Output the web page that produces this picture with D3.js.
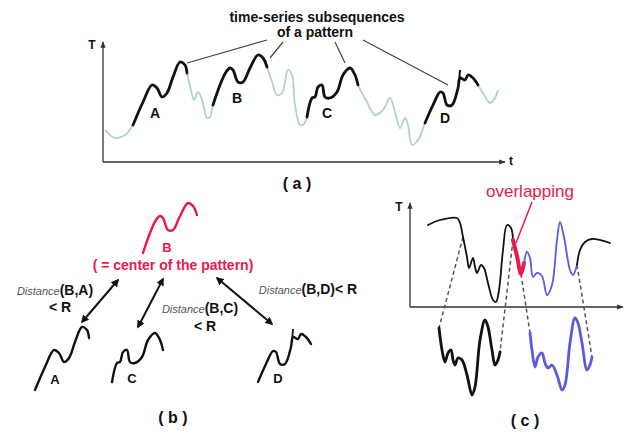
<!DOCTYPE html>
<html>
<head>
<meta charset="utf-8">
<script src="https://cdn.jsdelivr.net/npm/d3@7"></script>
<style>
  body { margin: 0; background: #fff; }
  svg { display: block; font-family: "Liberation Sans", Arial, sans-serif; }
</style>
</head>
<body>
<div id="chart-area"></div>
<script>
// DATA
// =====

// panel (a): the whole series, [t, T]
var seriesA = [
    [2, 32], [12, 24], [22, 27], [30, 37],
    [40, 60], [49, 77], [54, 74], [59, 65], [64, 69], [70, 85], [77, 100], [82, 97], [84, 89],
    [88, 72], [91, 62], [95, 70], [99, 62], [104, 44], [107, 45], [110, 57],
    [117, 77], [123, 90], [127, 94], [130, 92], [135, 80], [140, 80], [147, 94], [155, 107], [160, 104], [164, 95],
    [169, 80], [174, 67], [179, 69], [185, 92], [189, 87], [192, 57], [197, 37], [201, 38], [204, 45],
    [209, 64], [212, 65], [215, 75], [219, 77], [222, 65], [227, 64], [234, 70], [240, 87], [247, 94], [252, 87], [255, 77],
    [264, 60], [272, 47], [280, 52], [287, 64], [292, 50], [297, 34], [302, 44], [305, 37], [309, 17], [315, 22], [322, 39],
    [330, 57], [337, 70], [340, 69], [344, 57], [349, 57], [355, 74], [357, 84], [362, 82], [365, 87], [370, 84], [375, 77],
    [380, 69], [387, 59], [392, 64], [395, 72]
];
var subNames = ['A', 'B', 'C', 'D'];
var subRanges = [[30, 84], [110, 164], [204, 255], [322, 375]];
var dTick = [[357, 92], [356, 79]];

// panel (c): top series and the two copied subsequences below the axis
var seriesC = [
    [18, 82], [30, 87], [47, 89], [50, 84], [53, 70], [57, 50], [59, 39], [63, 49], [65, 40], [67, 34],
    [71, 42], [74, 39], [78, 24], [83, 7], [86, 5], [89, 17], [93, 57], [97, 82], [101, 79], [103, 67],
    [107, 51], [111, 33], [114, 44],
    [117, 55], [120, 49], [123, 30], [127, 34], [132, 31], [137, 12], [142, 22], [147, 67], [150, 85],
    [154, 70], [160, 37], [163, 32], [167, 42],
    [170, 57], [175, 65], [182, 68], [200, 64]
];
var segRanges = [[18, 103], [103, 114], [114, 167], [167, 200]];
var segKinds = ['black', 'red', 'blue', 'black'];
var copyBlack = [
    [29, -21], [32, -43], [35, -55], [38, -46], [41, -43], [43, -53], [45, -58], [48, -51], [52, -53],
    [57, -68], [62, -88], [65, -80], [70, -33], [75, -13], [78, -20], [82, -43], [85, -58], [88, -53], [90, -45]
];
var copyBlue = [
    [120, -26], [122, -43], [125, -60], [128, -50], [132, -46], [135, -56], [138, -61], [142, -58], [147, -68],
    [152, -83], [155, -78], [160, -36], [165, -11], [168, -16], [172, -36], [177, -63], [180, -58], [182, -50]
];
var connectors = [
    [[53, 70], [29, -21]], [[103, 67], [90, -45]], [[111, 33], [120, -26]], [[167, 42], [182, -50]]
];

var RED = '#e8194c', BLUE = '#5a5ae2', GRAY = '#b3d0cc';

// CANVAS
// =======

var svg = d3.select('#chart-area')
    .append('svg')
        .attr('width', 624)
        .attr('height', 434);

var defs = svg.append('defs');
defs.append('marker')
    .attr('id', 'axhead')
    .attr('viewBox', '0 0 10 10')
    .attr('refX', 9).attr('refY', 5)
    .attr('markerWidth', 5).attr('markerHeight', 5)
    .attr('orient', 'auto')
    .append('path').attr('d', 'M0,1L10,5L0,9z').attr('fill', '#333');
defs.append('marker')
    .attr('id', 'arhead')
    .attr('viewBox', '0 0 10 10')
    .attr('refX', 8).attr('refY', 5)
    .attr('markerWidth', 4).attr('markerHeight', 4)
    .attr('orient', 'auto-start-reverse')
    .append('path').attr('d', 'M0,0L10,5L0,10z').attr('fill', '#111');

function inRange(pts, r) {
    return pts.filter(d => d[0] >= r[0] && d[0] <= r[1]);
}

function bold(g, x, y, size, txt, fill, anchor) {
    return g.append('text')
        .attr('x', x).attr('y', y)
        .attr('font-size', size + 'px')
        .attr('font-weight', 'bold')
        .attr('fill', fill || '#111')
        .attr('text-anchor', anchor || 'middle')
        .text(txt);
}

// PANEL (a)
// ==========

var xA = d3.scaleLinear().domain([0, 400]).range([103, 503]);
var yA = d3.scaleLinear().domain([0, 120]).range([162, 42]);
var lineA = d3.line()
    .x(d => xA(d[0]))
    .y(d => yA(d[1]))
    .curve(d3.curveCatmullRom.alpha(0.5));

var gA = svg.append('g');

gA.append('line')
    .attr('x1', xA(0)).attr('y1', yA(0)).attr('x2', xA(0)).attr('y2', yA(120))
    .attr('stroke', '#333').attr('stroke-width', 1.3).attr('marker-end', 'url(#axhead)');
gA.append('line')
    .attr('x1', xA(0)).attr('y1', yA(0)).attr('x2', xA(402)).attr('y2', yA(0))
    .attr('stroke', '#333').attr('stroke-width', 1.3).attr('marker-end', 'url(#axhead)');
bold(gA, 92, 49, 12, 'T');
bold(gA, 511, 165, 12, 't');

gA.append('path')
    .attr('d', lineA(seriesA))
    .attr('fill', 'none').attr('stroke', GRAY).attr('stroke-width', 1.8);

subRanges.forEach(r => {
    gA.append('path')
        .attr('d', lineA(inRange(seriesA, r)))
        .attr('fill', 'none').attr('stroke', '#111').attr('stroke-width', 2.8)
        .attr('stroke-linecap', 'round');
});
gA.append('path')
    .attr('d', d3.line().x(d => xA(d[0])).y(d => yA(d[1]))(dTick))
    .attr('fill', 'none').attr('stroke', '#111').attr('stroke-width', 2);

var labelPosA = [[155, 118], [237, 103], [327, 118], [445, 123]];
subNames.forEach((n, i) => bold(gA, labelPosA[i][0], labelPosA[i][1], 14, n));

// callout
bold(gA, 317, 22, 14, 'time-series subsequences');
bold(gA, 315, 37, 14, 'of a pattern');
[[267, 40, 187, 63], [283, 42, 270, 58], [335, 42, 345, 63], [363, 40, 448, 85]].forEach(l => {
    gA.append('line')
        .attr('x1', l[0]).attr('y1', l[1]).attr('x2', l[2]).attr('y2', l[3])
        .attr('stroke', '#444').attr('stroke-width', 1.2);
});
bold(gA, 297, 189, 16, '( a )');

// PANEL (b)
// ==========

var gB = svg.append('g');
var anchorsB = [[35, 390], [143, 253], [112, 382], [258, 382]];

subNames.forEach((n, i) => {
    var pts = inRange(seriesA, subRanges[i]);
    var dx = anchorsB[i][0] - xA(pts[0][0]),
        dy = anchorsB[i][1] - yA(pts[0][1]);
    var gs = gB.append('g').attr('transform', 'translate(' + dx + ',' + dy + ')');
    var col = n === 'B' ? RED : '#111';
    gs.append('path')
        .attr('d', lineA(pts))
        .attr('fill', 'none').attr('stroke', col).attr('stroke-width', 2.4)
        .attr('stroke-linecap', 'round');
    if (n === 'D') {
        gs.append('path')
            .attr('d', d3.line().x(d => xA(d[0])).y(d => yA(d[1]))(dTick))
            .attr('fill', 'none').attr('stroke', '#111').attr('stroke-width', 1.8);
    }
});

bold(gB, 167, 252, 13, 'B', RED);
bold(gB, 173, 270, 14, '( = center of the pattern)', RED);
[[55, 384, 'A'], [132, 383, 'C'], [278, 383, 'D']].forEach(l => bold(gB, l[0], l[1], 13, l[2]));

[[118, 280, 82, 322], [163, 279, 138, 327], [217, 278, 272, 324]].forEach(a => {
    gB.append('line')
        .attr('x1', a[0]).attr('y1', a[1]).attr('x2', a[2]).attr('y2', a[3])
        .attr('stroke', '#111').attr('stroke-width', 2)
        .attr('marker-start', 'url(#arhead)').attr('marker-end', 'url(#arhead)');
});

function distLabel(x, y, pair, tail) {
    var t = gB.append('text')
        .attr('x', x).attr('y', y)
        .attr('text-anchor', 'middle')
        .attr('fill', '#111');
    t.append('tspan')
        .attr('font-size', '11px').attr('font-style', 'italic').attr('fill', '#555')
        .text('Distance');
    t.append('tspan')
        .attr('font-size', '14px').attr('font-weight', 'bold')
        .text(pair + (tail || ''));
}
distLabel(55, 295, '(B,A)');
bold(gB, 60, 312, 14, '< R');
distLabel(200, 313, '(B,C)');
bold(gB, 205, 331, 14, '< R');
distLabel(308, 294, '(B,D)', '< R');
bold(gB, 173, 423, 16, '( b )');

// PANEL (c)
// ==========

var xC = d3.scaleLinear().domain([0, 213]).range([410, 623]);
var yC = d3.scaleLinear().domain([0, 104]).range([307, 203]);
var lineC = d3.line()
    .x(d => xC(d[0]))
    .y(d => yC(d[1]))
    .curve(d3.curveCatmullRom.alpha(0.5));

var gC = svg.append('g');

gC.append('line')
    .attr('x1', xC(0)).attr('y1', yC(0)).attr('x2', xC(0)).attr('y2', yC(104))
    .attr('stroke', '#333').attr('stroke-width', 1.3).attr('marker-end', 'url(#axhead)');
gC.append('line')
    .attr('x1', xC(0)).attr('y1', yC(0)).attr('x2', xC(213)).attr('y2', yC(0))
    .attr('stroke', '#333').attr('stroke-width', 1.3).attr('marker-end', 'url(#axhead)');
bold(gC, 399, 211, 12, 'T');

connectors.forEach(c => {
    gC.append('line')
        .attr('x1', xC(c[0][0])).attr('y1', yC(c[0][1]))
        .attr('x2', xC(c[1][0])).attr('y2', yC(c[1][1]))
        .attr('stroke', '#555').attr('stroke-width', 1.5)
        .attr('stroke-dasharray', '4,3');
});

segRanges.forEach((r, i) => {
    var k = segKinds[i];
    gC.append('path')
        .attr('d', lineC(inRange(seriesC, r)))
        .attr('fill', 'none')
        .attr('stroke', k === 'red' ? RED : k === 'blue' ? BLUE : '#111')
        .attr('stroke-width', k === 'red' ? 4 : 1.8)
        .attr('stroke-linecap', 'round');
});

gC.append('path')
    .attr('d', lineC(copyBlack))
    .attr('fill', 'none').attr('stroke', '#111').attr('stroke-width', 2.8).attr('stroke-linecap', 'round');
gC.append('path')
    .attr('d', lineC(copyBlue))
    .attr('fill', 'none').attr('stroke', BLUE).attr('stroke-width', 2.8).attr('stroke-linecap', 'round');

gC.append('text')
    .attr('x', 530).attr('y', 197)
    .attr('text-anchor', 'middle')
    .attr('font-size', '17px')
    .attr('fill', RED)
    .text('overlapping');
gC.append('line')
    .attr('x1', 532).attr('y1', 202).attr('x2', 516).attr('y2', 243)
    .attr('stroke', RED).attr('stroke-width', 1.5);

bold(gC, 525, 426, 16, '( c )');
</script>
</body>
</html>
